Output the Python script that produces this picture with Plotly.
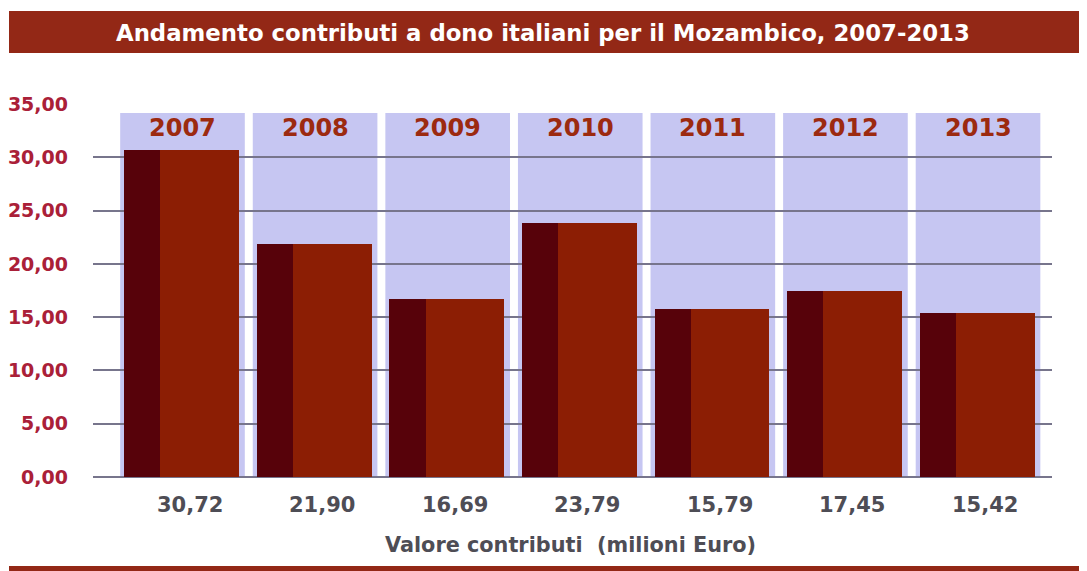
import plotly.graph_objects as go

years = ["2007", "2008", "2009", "2010", "2011", "2012", "2013"]
values = [30.72, 21.90, 16.69, 23.79, 15.79, 17.45, 15.42]
value_labels = ["30,72", "21,90", "16,69", "23,79", "15,79", "17,45", "15,42"]
y_ticks = [0, 5, 10, 15, 20, 25, 30, 35]
y_tick_labels = ["0,00", "5,00", "10,00", "15,00", "20,00", "25,00", "30,00", "35,00"]
title = "Andamento contributi a dono italiani per il Mozambico, 2007-2013"
x_title = "Valore contributi  (milioni Euro)"

OFF = 8  # page body margin
W, H = 1087 - OFF, 571 - OFF
# plot area in page pixels, converted to figure pixels
L, R, T, B = 93 - OFF, 1052 - OFF, 104 - OFF, 477 - OFF
idx = list(range(len(years)))

def px_x(px):
    return (px - OFF - L) / (R - L)

def px_y(py):
    return (B - (py - OFF)) / (B - T)

DARK = "#57020a"
FRONT = "#8c1e04"
BAND = "#932816"
LAV = "#c6c6f2"
GRID = "#77758c"
YEAR_C = "#9c2a10"
TICK_C = "#aa2038"
GRAY = "#4e4d55"

fig = go.Figure()

# 3D-looking bars: dark side face and front face
fig.add_trace(go.Bar(x=idx, y=values, width=0.275, offset=-0.44,
                     marker=dict(color=DARK, line=dict(width=0)),
                     hoverinfo="skip", showlegend=False))
fig.add_trace(go.Bar(x=idx, y=values, width=0.593, offset=-0.167,
                     marker=dict(color=FRONT, line=dict(width=0)),
                     showlegend=False))

shapes = []
# lavender column backgrounds (below gridlines)
for i in idx:
    shapes.append(dict(type="rect", xref="x", yref="y", layer="below",
                       x0=i - 0.47, x1=i + 0.47, y0=0, y1=34.15,
                       fillcolor=LAV, line=dict(width=0)))
# title band and bottom band
shapes.append(dict(type="rect", xref="paper", yref="paper", layer="above",
                   x0=px_x(9), x1=px_x(1100), y0=px_y(53), y1=px_y(11),
                   fillcolor=BAND, line=dict(width=0)))
shapes.append(dict(type="rect", xref="paper", yref="paper", layer="above",
                   x0=px_x(9), x1=px_x(1100), y0=px_y(580), y1=px_y(566),
                   fillcolor=BAND, line=dict(width=0)))

annotations = []
for i, yr in zip(idx, years):
    annotations.append(dict(x=i, y=32.75, xref="x", yref="y", text=yr,
                            showarrow=False,
                            font=dict(family="DejaVu Sans", size=24, color=YEAR_C),
                            xanchor="center", yanchor="middle"))
for i, lab in zip(idx, value_labels):
    annotations.append(dict(x=i, y=0, xref="x", yref="y", text=lab,
                            showarrow=False, xshift=7, yshift=-28,
                            font=dict(family="DejaVu Sans", size=21, color=GRAY),
                            xanchor="center", yanchor="middle"))
annotations.append(dict(x=px_x(570), y=px_y(545), xref="paper", yref="paper",
                        text=x_title, showarrow=False,
                        font=dict(family="DejaVu Sans", size=20.8, color=GRAY),
                        xanchor="center", yanchor="middle"))
annotations.append(dict(x=px_x(543), y=px_y(33), xref="paper", yref="paper",
                        text=title, showarrow=False,
                        font=dict(family="DejaVu Sans", size=22.8, color="white"),
                        xanchor="center", yanchor="middle"))
for a in annotations:
    a["text"] = "<b>" + a["text"] + "</b>"

fig.update_layout(
    width=W, height=H,
    margin=dict(l=L, r=W - R, t=T, b=H - B, pad=0, autoexpand=False),
    paper_bgcolor="white", plot_bgcolor="white",
    barmode="overlay", bargap=0,
    shapes=shapes, annotations=annotations,
    xaxis=dict(range=[-0.675, 6.558], showgrid=False, zeroline=False,
               showline=False, showticklabels=False, ticks="",
               automargin=False, fixedrange=True),
    yaxis=dict(range=[0, 35], tickvals=y_ticks,
               ticktext=["<b>" + t + "</b>" for t in y_tick_labels],
               showgrid=True, gridcolor=GRID, gridwidth=1.6,
               zeroline=True, zerolinecolor=GRID, zerolinewidth=1.6,
               showline=False, ticks="", ticklabelstandoff=24,
               tickfont=dict(family="DejaVu Sans", size=19, color=TICK_C),
               automargin=False, fixedrange=True),
)

fig.write_html("out.html")
